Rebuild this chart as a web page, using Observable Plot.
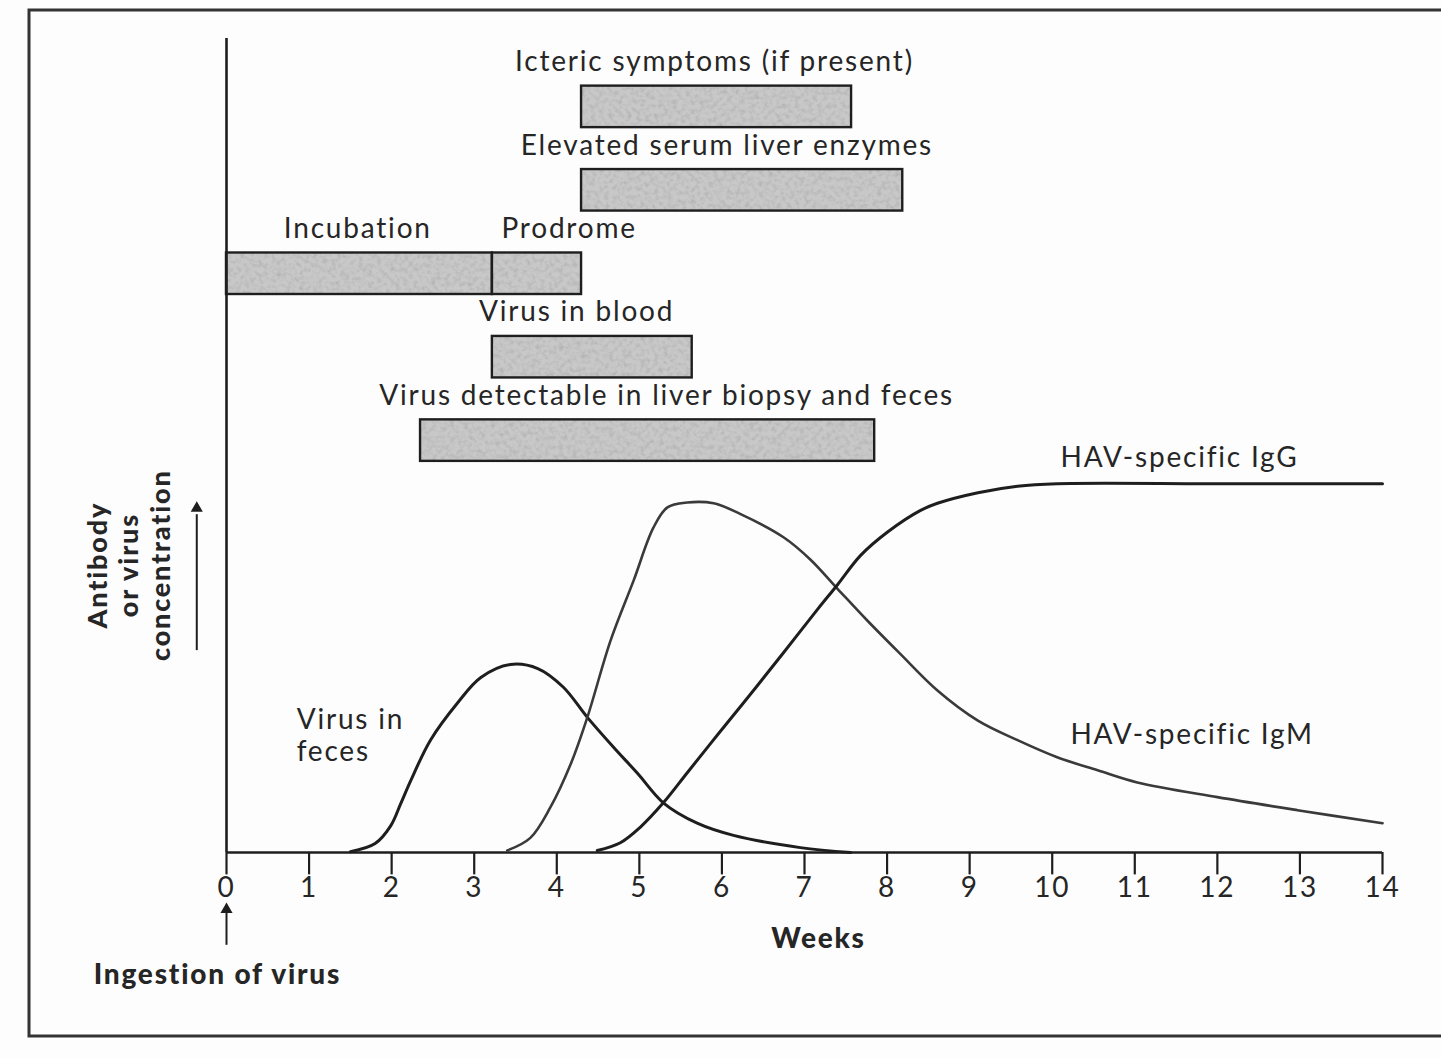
<!DOCTYPE html>
<html>
<head>
<meta charset="utf-8">
<script src="https://cdn.jsdelivr.net/npm/d3@7"></script>
<script src="https://cdn.jsdelivr.net/npm/@observablehq/plot@0.6"></script>
<style>
  html, body { margin: 0; padding: 0; background: #fdfdfd; }
  #chart svg { display: block; }
</style>
</head>
<body>
<div id="chart"></div>
<script>
// ---- Data (weeks after ingestion, relative concentration 0-100) ----
const weekTicks = [0,1,2,3,4,5,6,7,8,9,10,11,12,13,14];

// phase bars
const phaseNames  = ["Icteric symptoms (if present)", "Elevated serum liver enzymes", "Incubation", "Prodrome", "Virus in blood", "Virus detectable in liver biopsy and feces"];
const phaseStart  = [4.30, 4.30, 0.00, 3.22, 3.22, 2.35];
const phaseEnd    = [7.57, 8.19, 3.22, 4.30, 5.64, 7.85];
const phaseRow    = [0, 1, 2, 2, 3, 4];
const phaseLabelAt = [5.91, 6.06, 1.59, 4.15, 4.24, 5.33];

const virusInFeces = [
  [1.50,0.1],[1.80,1.1],[1.99,3.3],[2.11,6.0],[2.23,8.8],[2.47,13.8],[2.80,18.4],[3.08,21.5],[3.44,23.1],
  [3.77,22.6],[4.08,20.3],[4.37,16.6],[4.69,12.9],[4.98,9.7],[5.29,6.1],[5.70,3.6],
  [6.14,2.1],[6.95,0.6],[7.56,0]
];
const igM = [
  [3.40,0.25],[3.68,1.8],[3.92,5.5],[4.17,10.9],[4.37,16.6],[4.65,26.0],[4.93,33.4],
  [5.17,39.9],[5.34,42.4],[5.58,43.0],[5.90,42.9],[6.22,41.6],[6.75,38.7],[7.07,36.0],
  [7.40,32.4],[7.76,28.5],[8.16,24.4],[8.61,19.9],[9.10,16.2],[9.58,13.8],[10.06,11.7],
  [10.55,10.1],[11.03,8.6],[12.0,6.8],[12.97,5.2],[14.0,3.6]
];
const igG = [
  [4.49,0.25],[4.77,1.2],[5.01,3.1],[5.29,6.1],[5.58,9.8],[5.95,14.5],[6.35,19.5],
  [6.75,24.6],[7.16,29.9],[7.40,32.9],[7.68,36.5],[8.01,39.4],[8.40,42.0],[8.61,42.9],
  [9.10,44.2],[9.58,45.0],[10.06,45.3],[12.0,45.3],[14.0,45.3]
];

// curve labels: [text, week, level]
const curveLabels = [
  ["HAV-specific IgG", 10.10, 48.6],
  ["HAV-specific IgM", 10.22, 14.6],
  ["Virus in\nfeces", 0.85, 14.5]
];

// ---- Layout helpers ----
const FONT = "Lato, 'Open Sans', sans-serif";
const rowCenter = r => 91.6 - r * 10.25;
const barHalf = 2.55;
const labelOffset = 5.5;

const phases = phaseNames.map((name, i) => ({
  name, start: phaseStart[i], end: phaseEnd[i], row: phaseRow[i], labelAt: phaseLabelAt[i]
}));

const ink = "#1e1e1e";
const txt = "#262626";

const chart = Plot.plot({
  width: 1441,
  height: 1058,
  marginLeft: 226,
  marginRight: 59,
  marginTop: 38,
  marginBottom: 206,
  style: { background: "transparent", fontFamily: FONT, letterSpacing: "1.8px" },
  x: { domain: [0, 14], axis: null },
  y: { domain: [0, 100], axis: null },
  marks: [
    // phase bars (grain fill drawn first, crisp outline on top)
    Plot.rect(phases, {
      x1: "start", x2: "end",
      y1: d => rowCenter(d.row) - barHalf, y2: d => rowCenter(d.row) + barHalf,
      fill: "#c8c8c8", className: "grainbar"
    }),
    Plot.rect(phases, {
      x1: "start", x2: "end",
      y1: d => rowCenter(d.row) - barHalf, y2: d => rowCenter(d.row) + barHalf,
      fill: "none", stroke: ink, strokeWidth: 2.4
    }),
    Plot.text(phases, {
      x: "labelAt", y: d => rowCenter(d.row) + labelOffset, text: "name",
      fontSize: 28, fill: txt, fontFamily: FONT
    }),
    // axes
    Plot.ruleX([0], { y1: 0, y2: 100, stroke: ink, strokeWidth: 2.6 }),
    Plot.ruleY([0], { x1: 0, x2: 14, stroke: ink, strokeWidth: 2.6 }),
    Plot.ruleX(weekTicks, { y1: 0, y2: -2.75, stroke: ink, strokeWidth: 2.2 }),
    Plot.text(weekTicks, { x: d => d, y: -4.35, text: d => String(d), fontSize: 28, fill: txt, fontFamily: FONT }),
    // curves
    Plot.line(virusInFeces, { x: d => d[0], y: d => d[1], curve: "catmull-rom", stroke: ink, strokeWidth: 3 }),
    Plot.line(igM, { x: d => d[0], y: d => d[1], curve: "catmull-rom", stroke: "#3a3a3a", strokeWidth: 2.6 }),
    Plot.line(igG, { x: d => d[0], y: d => d[1], curve: "catmull-rom", stroke: ink, strokeWidth: 3 }),
    Plot.text(curveLabels, {
      x: d => d[1], y: d => d[2], text: d => d[0], textAnchor: "start",
      fontSize: 28, lineHeight: 1.15, fill: txt, fontFamily: FONT
    }),
    // axis titles
    Plot.text(["Weeks"], { x: 7.17, y: -10.6, text: d => d, fontSize: 28, fontWeight: 900, fill: txt, fontFamily: FONT }),
    Plot.text(["Ingestion of virus"], { x: -0.11, y: -15.1, text: d => d, fontSize: 28, fontWeight: 900, fill: txt, fontFamily: FONT }),
    Plot.text(["Antibody\nor virus\nconcentration"], {
      x: -1.19, y: 35.3, text: d => d, rotate: -90, fontSize: 27, lineHeight: 1.18,
      fontWeight: 900, fill: txt, fontFamily: FONT
    }),
    // arrows
    Plot.ruleX([-0.36], { y1: 24.8, y2: 41.5, stroke: ink, strokeWidth: 2 }),
    Plot.dot([[-0.36, 42.3]], { x: d => d[0], y: d => d[1], symbol: "triangle", r: 4.5, fill: ink, stroke: null }),
    Plot.ruleX([0], { y1: -11.4, y2: -7.4, stroke: ink, strokeWidth: 2 }),
    Plot.dot([[0, -7.0]], { x: d => d[0], y: d => d[1], symbol: "triangle", r: 4.5, fill: ink, stroke: null })
  ]
});

const svg = d3.select(chart);
// grain texture for the bars
const defs = svg.insert("defs", ":first-child");
const f = defs.append("filter").attr("id", "grain").attr("x", 0).attr("y", 0).attr("width", 1).attr("height", 1);
f.append("feTurbulence").attr("type", "fractalNoise").attr("baseFrequency", "0.22").attr("numOctaves", 3).attr("seed", 7).attr("result", "noise");
f.append("feColorMatrix").attr("in", "noise").attr("type", "matrix")
  .attr("values", "0 0 0 0 0.35  0 0 0 0 0.35  0 0 0 0 0.35  1.2 0 0 0 -0.5").attr("result", "dark");
f.append("feComposite").attr("in", "dark").attr("in2", "SourceGraphic").attr("operator", "in").attr("result", "darkIn");
const m = f.append("feMerge");
m.append("feMergeNode").attr("in", "SourceGraphic");
m.append("feMergeNode").attr("in", "darkIn");
svg.selectAll(".grainbar rect").attr("filter", "url(#grain)");

// page frame
svg.insert("rect", "defs + *")
  .attr("x", 29).attr("y", 10).attr("width", 1440).attr("height", 1026)
  .attr("fill", "#fdfdfd").attr("stroke", "#333").attr("stroke-width", 3);

document.getElementById("chart").appendChild(chart);
</script>
</body>
</html>
